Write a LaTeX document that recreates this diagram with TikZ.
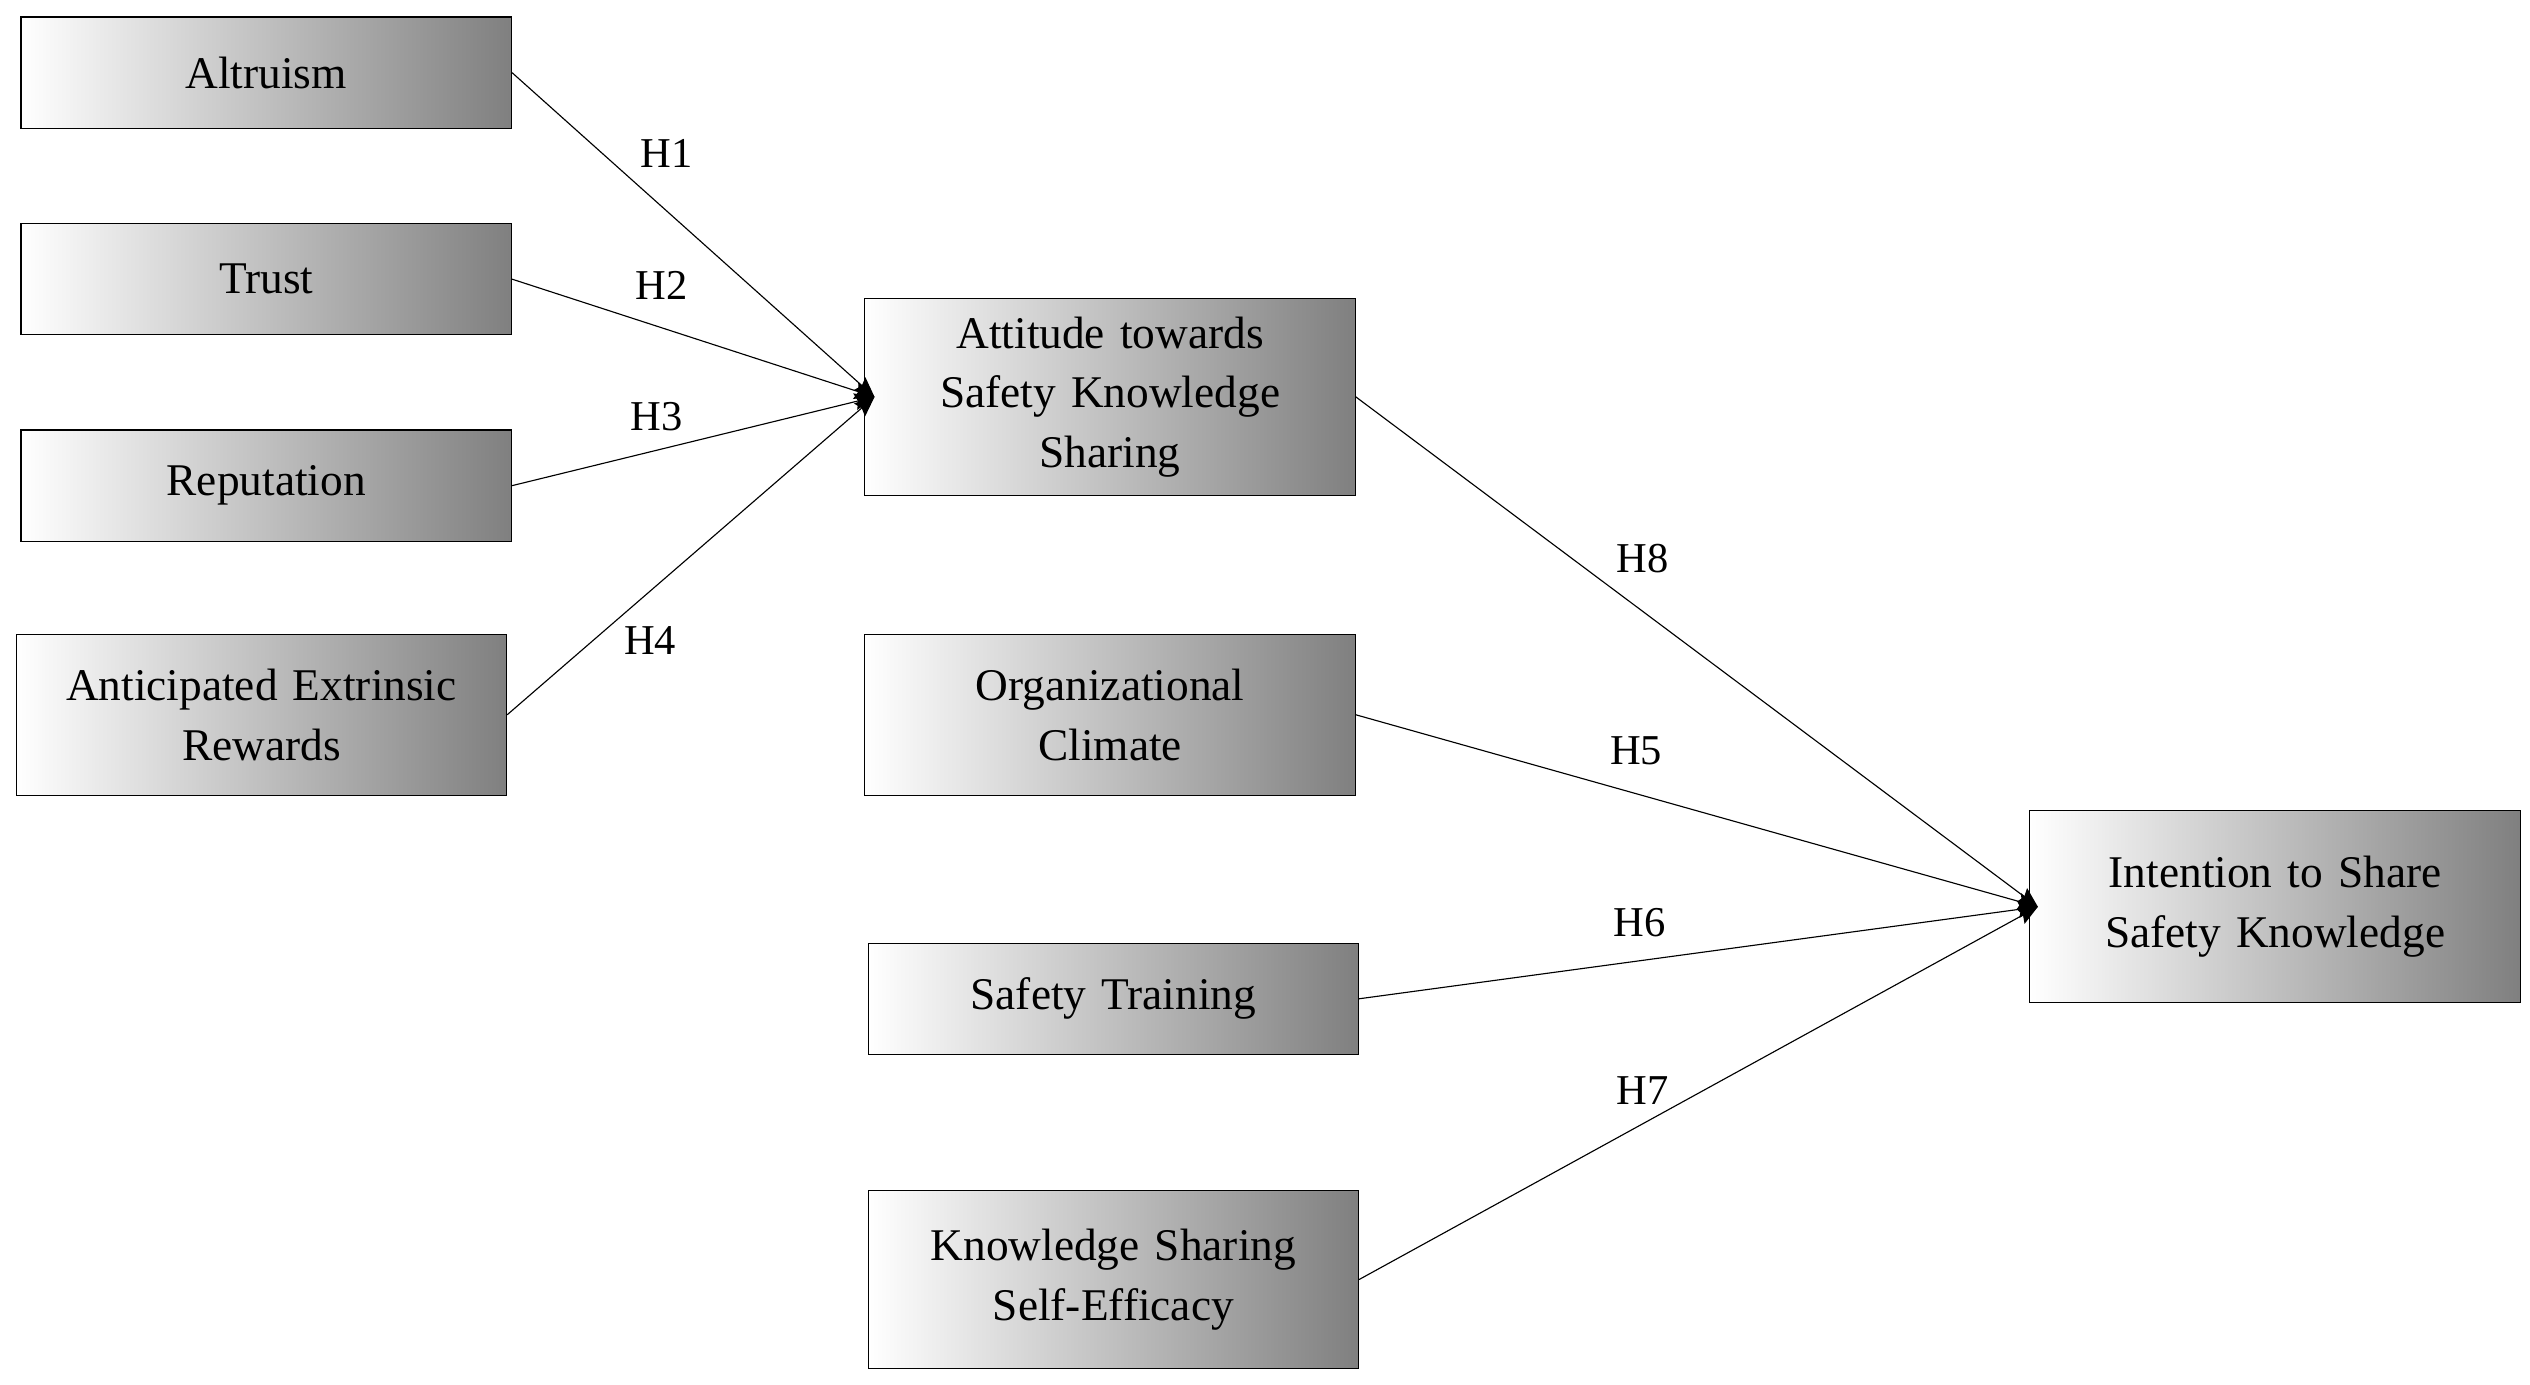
\documentclass[tikz,border=0pt]{standalone}
\usepackage{fontspec}
\setmainfont{Liberation Serif}
\usetikzlibrary{arrows.meta}

\begin{document}
\begin{tikzpicture}[x=0.02cm, y=-0.02cm,
	factor/.style={draw=black, thin, left color=white, right color=black!50, align=center, inner sep=0pt, text width=5.8cm, minimum width=6.08cm, font=\fontsize{16}{21}\selectfont},
	hyp/.style={font=\fontsize{15}{18}\selectfont},
	path/.style={draw=black, thin, -{Stealth[length=7pt, width=6pt, inset=1pt]}}]
	\useasboundingbox (0,0) rectangle (1568,858);

	% antecedents
	\node[factor, minimum height=1.38cm] (altr) at (165,45) {Altruism};
	\node[factor, minimum height=1.38cm] (trust) at (165,173) {Trust};
	\node[factor, minimum height=1.38cm] (repu) at (165,301) {Reputation};
	\node[factor, minimum height=2cm] (rew) at (162,443) {Anticipated Extrinsic\\Rewards};

	\node[factor, minimum height=2.44cm] (att) at (688,246) {Attitude towards\\Safety Knowledge\\Sharing};
	\node[factor, minimum height=2cm] (clim) at (688,443) {Organizational\\Climate};
	\node[factor, minimum height=1.38cm] (train) at (690,619) {Safety Training};
	\node[factor, minimum height=2.2cm] (eff) at (690,793) {Knowledge Sharing\\Self-Efficacy};

	\node[factor, minimum height=2.38cm] (int) at (1410,562) {Intention to Share\\Safety Knowledge};

	\coordinate (attin) at (542,246);
	\coordinate (intin) at (1263,562);

	\draw[path] (altr.east) -- (attin);
	\draw[path] (trust.east) -- (attin);
	\draw[path] (repu.east) -- (attin);
	\draw[path] (rew.east) -- (attin);

	\draw[path] (att.east) -- (intin);
	\draw[path] (clim.east) -- (intin);
	\draw[path] (train.east) -- (intin);
	\draw[path] (eff.east) -- (intin);

	\node[hyp] (h1) at (413,95) {H1};
	\node[hyp] (h2) at (410,177) {H2};
	\node[hyp] (h3) at (407,258) {H3};
	\node[hyp] (h4) at (403,397) {H4};
	\node[hyp] (h8) at (1018,346) {H8};
	\node[hyp] (h5) at (1014,465) {H5};
	\node[hyp] (h6) at (1016,572) {H6};
	\node[hyp] (h7) at (1018,676) {H7};
\end{tikzpicture}
\end{document}
